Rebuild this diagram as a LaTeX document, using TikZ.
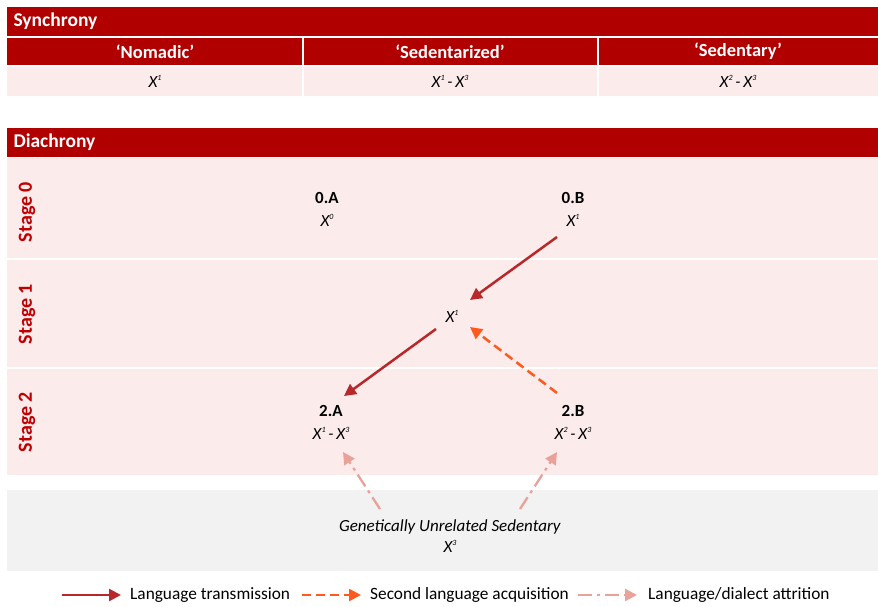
\documentclass[tikz,border=0pt]{standalone}
\usepackage{fontspec}
\setmainfont{Carlito}
\usetikzlibrary{arrows.meta}
\definecolor{hdr}{HTML}{B00000}
\definecolor{stagered}{HTML}{C00000}
\definecolor{band}{HTML}{FBEBEB}
\definecolor{graybg}{HTML}{F2F2F2}
\definecolor{transc}{HTML}{B8282A}
\definecolor{secc}{HTML}{FF5A1E}
\definecolor{attc}{HTML}{E8A29A}
\newcommand{\supsm}[1]{\raisebox{0.85ex}{\fontsize{8}{8}\selectfont #1}}
\newcommand{\Xs}[1]{\textit{X\supsm{#1}}}
\newcommand{\XX}[2]{\textit{X\supsm{#1}\,-\,X\supsm{#2}}}
\tikzset{
  hdrbox/.style={fill=hdr,draw=none},
  bandbox/.style={fill=band,draw=none},
  hdrtext/.style={text=white,font=\fontsize{19.5}{22}\selectfont\bfseries},
  coltext/.style={text=white,font=\fontsize{18.5}{21}\selectfont\bfseries},
  valtext/.style={font=\fontsize{17}{20}\selectfont},
  stagetext/.style={text=stagered,font=\fontsize{20}{22}\selectfont\bfseries,rotate=90},
  nodetext/.style={font=\fontsize{17}{23}\selectfont,align=center,inner sep=0pt},
  legtext/.style={font=\fontsize{17.3}{20}\selectfont,anchor=west,inner sep=0pt},
  trans/.style={draw=transc,line width=2.5pt,-{Triangle[length=12pt,width=12pt]}},
  secacq/.style={draw=secc,line width=2.5pt,dash pattern=on 9pt off 5pt,-{Triangle[length=12pt,width=12pt]}},
  attr/.style={draw=attc,line width=2.3pt,dash pattern=on 14pt off 5pt on 3pt off 5pt,-{Triangle[length=12pt,width=12pt]}},
}
\begin{document}
\begin{tikzpicture}[x=1pt,y=-1pt]
\useasboundingbox[fill=white] (0,0) rectangle (878,607);
% Synchrony table
\fill[hdrbox] (7,7) rectangle (878,36);
\node[hdrtext,anchor=west] (synh) at (10,21.5) {Synchrony};
\fill[hdrbox] (7,38) rectangle (302,65);
\fill[hdrbox] (304,38) rectangle (597,65);
\fill[hdrbox] (599,38) rectangle (878,65);
\node[coltext] (c1) at (155,51.5) {‘Nomadic’};
\node[coltext] (c2) at (450,51.5) {‘Sedentarized’};
\node[coltext] (c3) at (738,51.5) {‘Sedentary’};
\fill[bandbox] (7,67) rectangle (302,96);
\fill[bandbox] (304,67) rectangle (597,96);
\fill[bandbox] (599,67) rectangle (878,96);
\node[valtext] (v1) at (155,81.5) {\Xs{1}};
\node[valtext] (v2) at (450,81.5) {\XX{1}{3}};
\node[valtext] (v3) at (738,81.5) {\XX{2}{3}};
% Diachrony
\fill[hdrbox] (7,128) rectangle (878,157);
\node[hdrtext,anchor=west] (diah) at (10,142.5) {Diachrony};
\fill[bandbox] (7,158) rectangle (878,258);
\fill[bandbox] (7,260) rectangle (878,367);
\fill[bandbox] (7,369) rectangle (878,475);
\node[stagetext] (s0) at (27,212) {Stage 0};
\node[stagetext] (s1) at (27,314) {Stage 1};
\node[stagetext] (s2) at (27,422) {Stage 2};
\fill[graybg] (7,490) rectangle (878,571);
% nodes
\node[nodetext] (a0) at (327,209) {\textbf{0.A}\\\Xs{0}};
\node[nodetext] (b0) at (573,209) {\textbf{0.B}\\\Xs{1}};
\node[nodetext] (x1) at (452,316) {\Xs{1}};
\node[nodetext] (a2) at (331,422) {\textbf{2.A}\\\XX{1}{3}};
\node[nodetext] (b2) at (573,422) {\textbf{2.B}\\\XX{2}{3}};
\node[nodetext,font=\fontsize{17}{21}\selectfont] (g) at (450,536) {\textit{Genetically Unrelated Sedentary}\\\Xs{3}};
% connectors
\draw[trans] ([shift={(-16,28)}]b0.center) -- ([shift={(18,-16)}]x1.center);
\draw[trans] ([shift={(-16,13)}]x1.center) -- ([shift={(13,-26)}]a2.center);
\draw[secacq] ([shift={(-16,-29)}]b2.center) -- ([shift={(18,11)}]x1.center);
\draw[attr] ([shift={(-70,-27)}]g.center) -- ([shift={(12,30)}]a2.center);
\draw[attr] ([shift={(70,-27)}]g.center) -- ([shift={(-16,30)}]b2.center);
% legend
\node[legtext] (l1) at (130,595) {Language transmission};
\node[legtext] (l2) at (370,595) {Second language acquisition};
\node[legtext] (l3) at (648,595) {Language/dialect attrition};
\draw[trans] ([xshift=-68]l1.west) -- ([xshift=-9]l1.west);
\draw[secacq] ([xshift=-68]l2.west) -- ([xshift=-9]l2.west);
\draw[attr] ([xshift=-70]l3.west) -- ([xshift=-11]l3.west);
\end{tikzpicture}
\end{document}
